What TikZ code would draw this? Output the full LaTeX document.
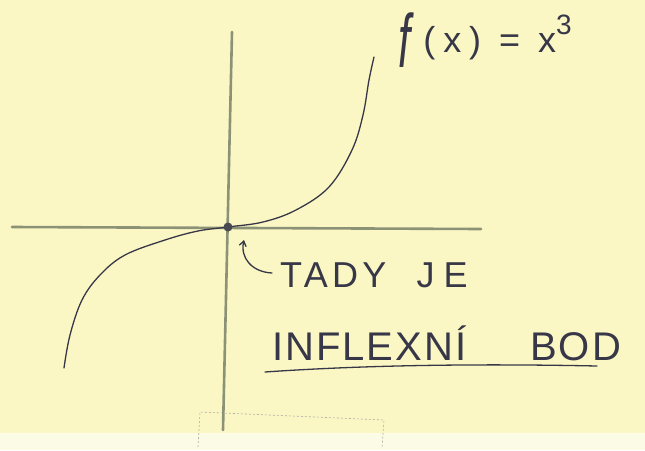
\documentclass[tikz,border=0pt]{standalone}
\usepackage{fontspec}
\setmainfont{Liberation Sans}
\newfontfamily\handwide[LetterSpace=22]{Liberation Sans}
\newfontfamily\handtady[LetterSpace=12]{Liberation Sans}
\newfontfamily\handmid[LetterSpace=5]{Liberation Sans}
\usetikzlibrary{arrows.meta}
\definecolor{paper}{RGB}{250,247,196}
\definecolor{paperlow}{RGB}{252,251,230}
\definecolor{axiscol}{RGB}{140,146,118}
\definecolor{ink}{RGB}{55,55,72}
\definecolor{faint}{RGB}{175,175,165}
\tikzset{
  axisline/.style={draw=axiscol, line width=2.6pt, line cap=round},
  penline/.style={draw=ink, line width=1.3pt, line cap=round},
  handtext/.style={text=ink, inner sep=0pt, anchor=base west},
  faintline/.style={draw=faint, line width=0.6pt, dash pattern=on 2pt off 2pt}
}
\begin{document}
\begin{tikzpicture}[x=1pt,y=-1pt]
\useasboundingbox (0,0) rectangle (645,450);
\fill[paper] (0,0) rectangle (645,450);
\fill[paperlow] (0,433) rectangle (645,450);
% faint bracket at the bottom
\coordinate (b1) at (198,447);
\coordinate (b2) at (200,412);
\coordinate (b3) at (384,420);
\coordinate (b4) at (382,448);
\draw[faintline] (b1) -- (b2) -- (b3) -- (b4);
% axes
\coordinate (vtop) at (232,32);
\coordinate (vbot) at (223,430);
\coordinate (hleft) at (12,227);
\coordinate (hright) at (481,229);
\draw[axisline] (vtop) -- (vbot);
\draw[axisline] (hleft) -- (hright);
% curve
\draw[penline] plot[smooth, tension=0.6] coordinates {(64,368) (70,335) (82,300) (100,275) (125,255) (165,240) (198,231) (228,227) (263,222) (296,210) (329,187) (352,150) (363,115) (369,80) (374,57)};
% inflection point
\node[circle, fill=ink!80!axiscol, inner sep=0pt, minimum size=9pt] (dot) at (228,227) {};
% labels
\node[handtext, font=\handwide\fontsize{36}{40}\selectfont] (flabel) at (398,52) {\raisebox{-0.42em}{\scalebox{1.2}[2.1]{\textit{f}}}(x) = x\raisebox{0.5em}{\fontsize{28}{30}\selectfont 3}};
\node[handtext, font=\handtady\fontsize{36}{40}\selectfont] (tady) at (280,287) {TADY\hspace{30pt}J\hspace{9pt}E};
\node[handtext, font=\handmid\fontsize{40}{44}\selectfont] (infl) at (272,360) {INFLEXNÍ\hspace{1.6em}BOD};
% arrow hook
\coordinate (hooktail) at (272,273);
\draw[penline, -{Straight Barb[length=5pt,width=7pt]}] (hooktail) .. controls (252,272) and (240,258) .. (244,240);
% underline
\coordinate (u1) at (265,372);
\coordinate (u2) at (597,366);
\draw[penline] (u1) .. controls (380,364) and (500,364) .. (u2);
\end{tikzpicture}
\end{document}
